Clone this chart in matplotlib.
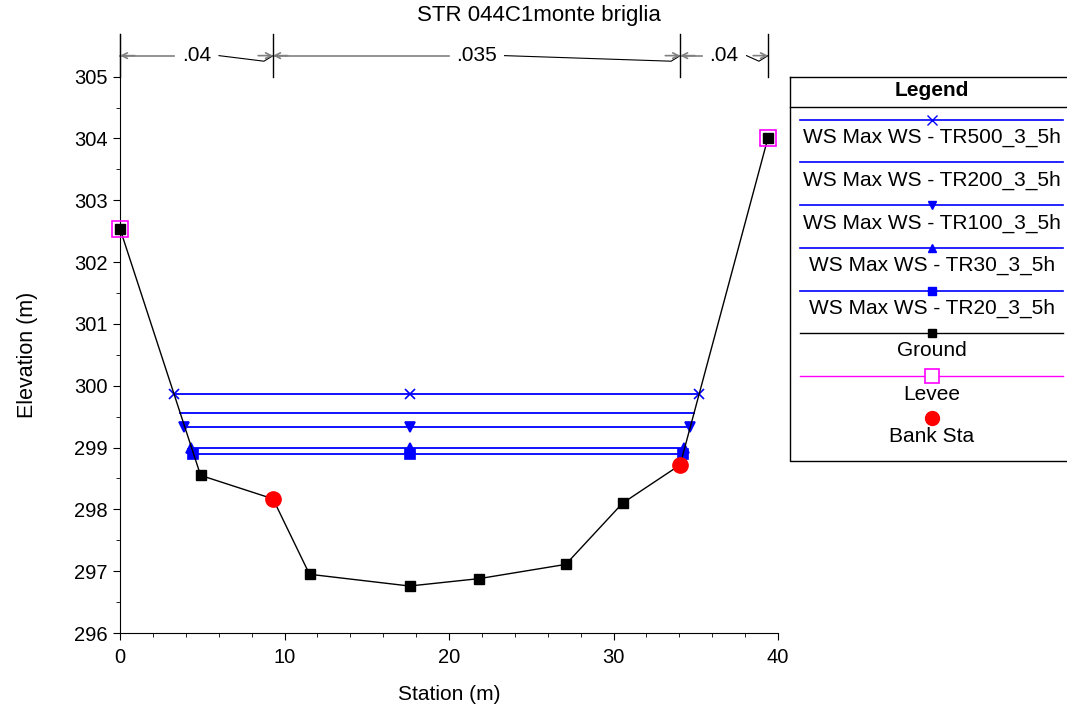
import matplotlib
matplotlib.use("Agg")
import matplotlib.pyplot as plt
from matplotlib.ticker import MultipleLocator
import numpy as np

plt.rcParams['font.family'] = ['Liberation Sans', 'DejaVu Sans']

# дно (Ground)
ground_sta = [0.0, 4.9, 9.3, 11.52, 17.6, 21.84, 27.1, 30.55, 34.05, 39.39]
ground_elev = [302.54, 298.55, 298.17, 296.95, 296.76, 296.88, 297.11, 298.10, 298.72, 304.01]

# argini (Levee)
levee_sta = [0.0, 39.39]
levee_elev = [302.54, 304.01]

# sponde (Bank Sta)
bank_sta = [9.3, 34.05]
bank_elev = [298.17, 298.72]

# livelli idrici: nome, quota, stazione sx, centro, dx, marker
ws_names = ["WS Max WS - TR500_3_5h", "WS Max WS - TR200_3_5h", "WS Max WS - TR100_3_5h",
            "WS Max WS - TR30_3_5h", "WS Max WS - TR20_3_5h"]
ws_elev = [299.86, 299.56, 299.34, 299.00, 298.90]
ws_left = [3.27, 3.64, 3.91, 4.33, 4.45]
ws_mid = [17.6, 17.6, 17.6, 17.6, 17.6]
ws_right = [35.19, 34.88, 34.66, 34.31, 34.21]
ws_markers = ["x", "", "v", "^", "s"]

# coefficienti di Manning
n_bounds = [0.0, 9.3, 34.05, 39.39]
n_values = [".04", ".035", ".04"]

fs = 14.5
fs_leg = 15

fig = plt.figure(figsize=(10.67, 7.11), dpi=100)
ax = fig.add_axes([120/1067, 78/711, 658/1067, 599/711])

for name, z, xl, xm, xr, mk in zip(ws_names, ws_elev, ws_left, ws_mid, ws_right, ws_markers):
    ax.plot([xl, xm, xr], [z, z, z], color='blue', linewidth=1.3, marker=mk if mk else None,
            markersize=7, markeredgewidth=1.2, zorder=3)

ax.plot(ground_sta, ground_elev, color='black', linewidth=1, marker='s', markersize=7,
        zorder=4, clip_on=False)
ax.plot(levee_sta, levee_elev, linestyle='none', marker='s', markersize=11,
        markerfacecolor='none', markeredgecolor='magenta', markeredgewidth=1.2, zorder=5, clip_on=False)
ax.plot(bank_sta, bank_elev, linestyle='none', marker='o', markersize=11, color='red', zorder=5)

ax.set_xlim(0, 40)
ax.set_ylim(296, 305.69)
ax.set_yticks(np.arange(296, 306, 1))
ax.xaxis.set_major_locator(MultipleLocator(10))
ax.xaxis.set_minor_locator(MultipleLocator(2))
# niente minor tick sopra 305
ax.yaxis.set_minor_locator(plt.FixedLocator(np.arange(296, 305.01, 0.5)))
ax.spines['top'].set_visible(False)
ax.spines['right'].set_visible(False)
ax.tick_params(which='major', direction='out', length=5, labelsize=fs, pad=4)
ax.tick_params(which='minor', direction='out', length=3)
ax.tick_params(axis='x', which='major', pad=6)

# annotazioni n di Manning
y_ar = 305.34
px = 658 / 40.0
for i, lab in enumerate(n_values):
    x0, x1 = n_bounds[i], n_bounds[i + 1]
    xc = (x0 + x1) / 2
    half = (6 + 5.5 * len(lab)) / px
    ax.plot([x0, xc - half], [y_ar, y_ar], color='grey', linewidth=1.2, clip_on=False)
    ax.plot([xc + half, x1 - 9 / px, x1], [y_ar, y_ar - 0.09, y_ar], color='black',
            linewidth=0.8, clip_on=False)
    ax.annotate('', xy=(x0, y_ar), xytext=(x0 + 0.9, y_ar),
                arrowprops=dict(arrowstyle='->', color='grey', lw=1.2, shrinkA=0, shrinkB=0),
                annotation_clip=False)
    ax.annotate('', xy=(x1, y_ar), xytext=(x1 - 0.9, y_ar),
                arrowprops=dict(arrowstyle='->', color='grey', lw=1.2, shrinkA=0, shrinkB=0),
                annotation_clip=False)
    ax.text(xc, y_ar, lab, ha='center', va='center', fontsize=fs + 0.5)
for xb in n_bounds:
    ax.plot([xb, xb], [305.0, 305.69], color='black', linewidth=1, clip_on=False)

fig.text(539 / 1067, 1 - 15 / 711, "STR 044C1monte briglia", ha='center', va='center', fontsize=16)
fig.text(449 / 1067, 1 - 694 / 711, "Station (m)", ha='center', va='center', fontsize=15)
fig.text(28 / 1067, 1 - 355 / 711, "Elevation (m)", ha='center', va='center', fontsize=15.5,
         rotation=90)

# legenda disegnata a mano, in pixel
lax = fig.add_axes([0, 0, 1, 1])
lax.set_xlim(0, 1067)
lax.set_ylim(711, 0)
lax.axis('off')
lax.patch.set_alpha(0)
lax.plot([790, 1080, 1080, 790, 790], [77, 77, 461, 461, 77], color='black', linewidth=1)
lax.plot([790, 1080], [107, 107], color='black', linewidth=1)
lax.text(932, 91, "Legend", ha='center', va='center', fontsize=fs_leg, fontweight='bold')

leg_rows = [(120, 137), (162, 180), (205, 223), (248, 265), (291, 308)]
for (yl, yt), name, mk in zip(leg_rows, ws_names, ws_markers):
    lax.plot([800, 1063], [yl, yl], color='blue', linewidth=1.2)
    if mk:
        lax.plot([932], [yl], color='blue', marker=mk, markersize=6 if mk != 'x' else 7)
    lax.text(932, yt, name, ha='center', va='center', fontsize=fs_leg)

lax.plot([800, 1063], [333, 333], color='black', linewidth=1)
lax.plot([932], [333], color='black', marker='s', markersize=6)
lax.text(932, 351, "Ground", ha='center', va='center', fontsize=fs_leg)
lax.plot([800, 1063], [376, 376], color='magenta', linewidth=1)
lax.plot([932], [376], marker='s', markersize=10, markerfacecolor='white',
         markeredgecolor='magenta', markeredgewidth=1.2)
lax.text(932, 394, "Levee", ha='center', va='center', fontsize=fs_leg)
lax.plot([932], [418], marker='o', markersize=10, color='red')
lax.text(932, 437, "Bank Sta", ha='center', va='center', fontsize=fs_leg)

fig.savefig("out.png", dpi=100)
